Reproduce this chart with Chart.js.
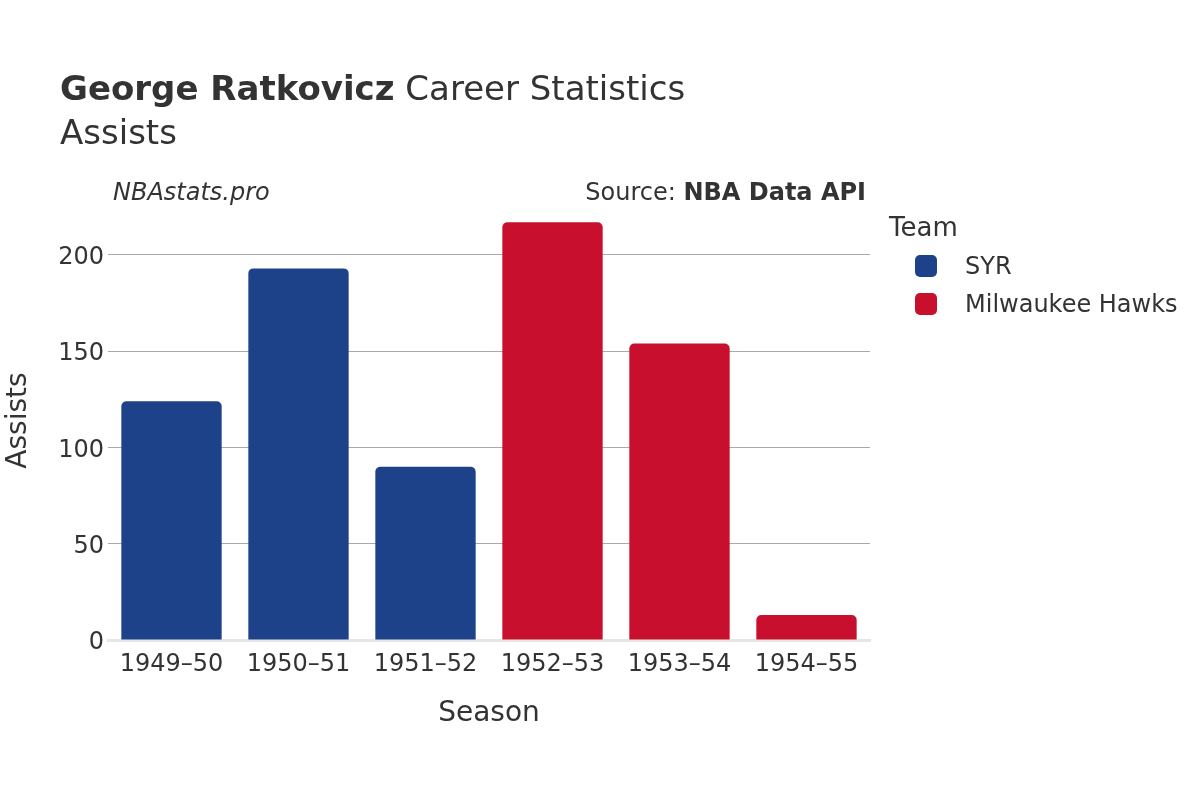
<!DOCTYPE html>
<html lang="en">
<head>
    <meta charset="UTF-8">
    <title>George Ratkovicz Career Statistics - Assists</title>
    <script src="https://cdn.jsdelivr.net/npm/chart.js"></script>
    <style>
        body {
            margin: 0;
            background: #ffffff;
            font-family: "DejaVu Sans", sans-serif;
            color: #333333;
        }

        .wrap {
            position: relative;
            width: 1200px;
            height: 800px;
        }

        .wrap canvas {
            position: absolute;
            left: 0;
            top: 0;
        }

        .title {
            position: absolute;
            left: 60px;
            top: 66px;
            font-size: 34px;
            line-height: 44px;
            white-space: nowrap;
        }

        .note {
            position: absolute;
            top: 176px;
            font-size: 24px;
            line-height: 32px;
            white-space: nowrap;
        }

        .note.left { left: 113px; font-style: italic; }
        .note.right { right: 334px; }

        .legend {
            position: absolute;
            left: 889px;
            top: 209px;
        }

        .legend .head {
            font-size: 26px;
            line-height: 36px;
            margin-bottom: 2px;
        }

        .legend .item {
            display: flex;
            align-items: center;
            height: 38px;
            font-size: 24px;
            padding-left: 26px;
        }

        .legend .swatch {
            width: 22px;
            height: 22px;
            border-radius: 5px;
            margin-right: 28px;
        }
    </style>
</head>
<body>
    <div class="wrap">
        <canvas id="chart" width="1200" height="800"></canvas>
        <div class="title"><b>George Ratkovicz</b> Career Statistics<br>Assists</div>
        <div class="note left">NBAstats.pro</div>
        <div class="note right">Source: <b>NBA Data API</b></div>
        <div class="legend" id="legend">
            <div class="head">Team</div>
        </div>
    </div>

    <script>
        // data
        const seasons = ['1949–50', '1950–51', '1951–52', '1952–53', '1953–54', '1954–55'];
        const teams = ['SYR', 'Milwaukee Hawks'];
        const teamColors = ['#1d428a', '#c8102e'];
        const syrAssists = [124, 193, 90, null, null, null];
        const hawksAssists = [null, null, null, 217, 154, 13];
        const yTicks = [0, 50, 100, 150, 200];

        const textColor = '#333333';
        const font = 'DejaVu Sans';

        // legend (html so it can sit exactly like the original)
        const legend = document.getElementById('legend');
        teams.forEach((name, i) => {
            const row = document.createElement('div');
            row.className = 'item';
            row.innerHTML = `<span class="swatch" style="background:${teamColors[i]}"></span>${name}`;
            legend.appendChild(row);
        });

        const ctx = document.getElementById('chart').getContext('2d');

        new Chart(ctx, {
            type: 'bar',
            data: {
                labels: seasons,
                datasets: [
                    {
                        label: teams[0],
                        data: syrAssists,
                        backgroundColor: teamColors[0],
                        borderRadius: 5
                    },
                    {
                        label: teams[1],
                        data: hawksAssists,
                        backgroundColor: teamColors[1],
                        borderRadius: 5
                    }
                ]
            },
            options: {
                responsive: false,
                animation: false,
                categoryPercentage: 1,
                barPercentage: 0.79,
                layout: {
                    padding: { top: 201, left: 0, right: 330, bottom: 0 }
                },
                plugins: {
                    legend: { display: false },
                    tooltip: { enabled: false }
                },
                scales: {
                    x: {
                        stacked: true,
                        grid: { display: false },
                        border: { display: true, color: '#e6e6e6', width: 3 },
                        ticks: {
                            color: textColor,
                            font: { family: font, size: 24 },
                            padding: 2
                        },
                        title: {
                            display: true,
                            text: 'Season',
                            color: textColor,
                            font: { family: font, size: 28 },
                            padding: { top: 0, bottom: 69 }
                        },
                        afterFit: (scale) => { scale.height = 160; }
                    },
                    y: {
                        stacked: true,
                        min: 0,
                        max: 228,
                        afterBuildTicks: (scale) => {
                            scale.ticks = yTicks.map(v => ({ value: v }));
                        },
                        grid: {
                            color: '#aaaaaa',
                            lineWidth: 1,
                            drawTicks: false
                        },
                        border: { display: false },
                        ticks: {
                            color: textColor,
                            font: { family: font, size: 24 },
                            padding: 4,
                            labelOffset: 3
                        },
                        title: {
                            display: true,
                            text: 'Assists',
                            color: textColor,
                            font: { family: font, size: 28 },
                            padding: { top: 2, bottom: 0 }
                        },
                        afterFit: (scale) => { scale.width = 108; }
                    }
                }
            }
        });
    </script>
</body>
</html>
